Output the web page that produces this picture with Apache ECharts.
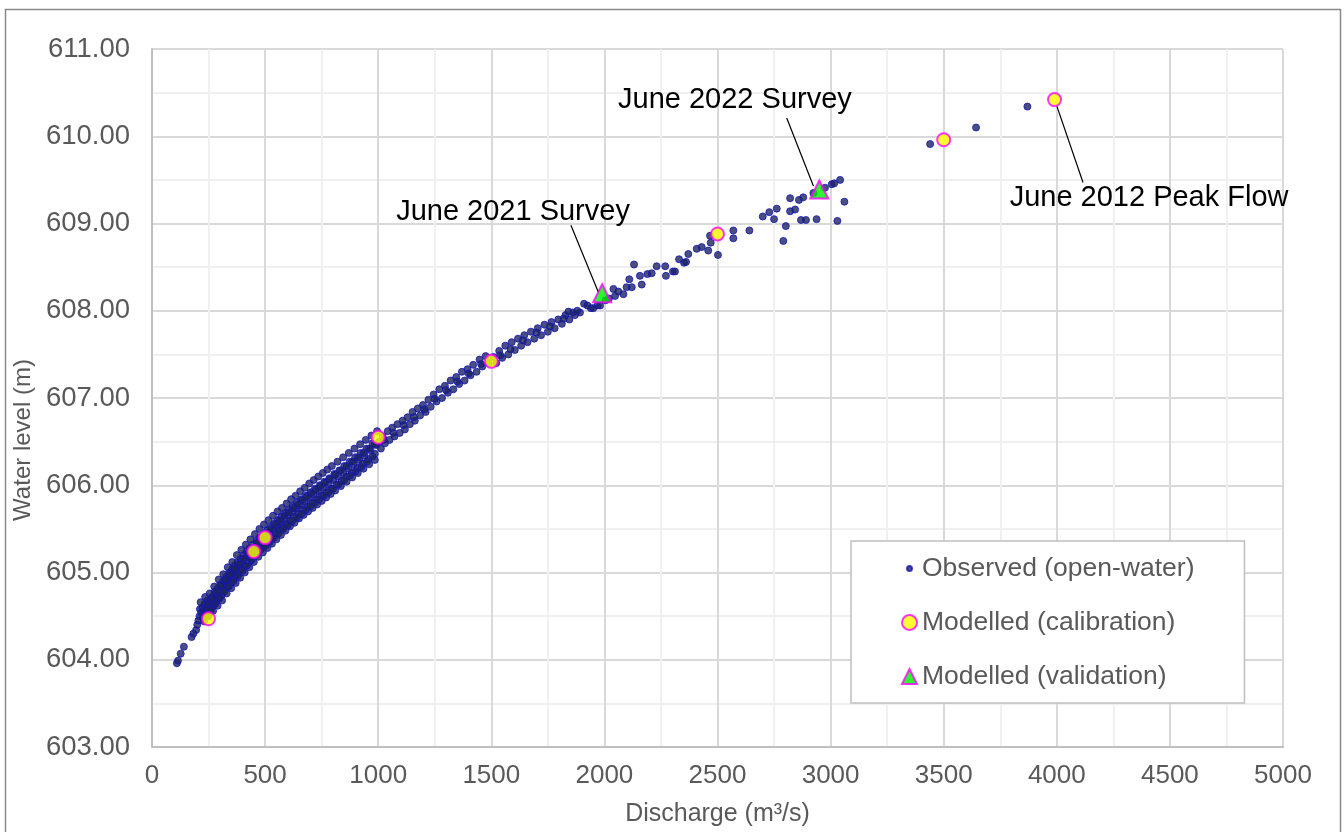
<!DOCTYPE html>
<html>
<head>
<meta charset="utf-8">
<script src="https://cdn.jsdelivr.net/npm/echarts@6/dist/echarts.min.js"></script>
<style>
  html, body { margin: 0; padding: 0; background: #fff; }
  #chart { width: 1344px; height: 832px; }
</style>
</head>
<body>
<div id="chart"></div>
<script>
// observed open-water stage-discharge pairs [Q m3/s, level m]
const observed = [
  [110,603.96],[115,603.99],[127,604.07],[141,604.15],[175,604.26],[183,604.30],[195,604.34],[200,604.40],
  [205,604.45],[210,604.50],[212,604.58],[218,604.54],[222,604.60],[225,604.48],[230,604.56],[232,604.64],
  [238,604.52],[240,604.60],[245,604.68],[248,604.58],[255,604.54],[258,604.66],[262,604.60],[265,604.72],
  [270,604.62],[275,604.70],[278,604.78],[282,604.66],[288,604.74],[290,604.82],[295,604.70],[300,604.78],
  [302,604.86],[308,604.74],[312,604.84],[315,604.90],[320,604.80],[325,604.88],[328,604.95],[333,604.84],
  [338,604.92],[342,605.00],[346,604.88],[350,604.97],[355,605.04],[358,604.92],[362,605.00],[366,605.08],
  [370,604.96],[375,605.05],[378,605.12],[383,605.00],[388,605.09],[392,605.16],[396,605.04],[400,605.13],
  [405,605.20],[410,605.08],[415,605.17],[418,605.24],[424,605.12],[428,605.21],[432,605.28],[438,605.16],
  [442,605.25],[446,605.32],[452,605.20],[458,605.29],[462,605.36],[468,605.24],[472,605.33],[476,605.40],
  [482,605.28],[488,605.37],[492,605.44],[498,605.32],[505,605.41],[508,605.48],[514,605.36],[520,605.45],
  [524,605.52],[530,605.40],[536,605.49],[540,605.56],[546,605.44],[552,605.53],[556,605.60],[562,605.48],
  [568,605.57],[572,605.64],[578,605.52],[584,605.61],[588,605.68],[595,605.56],[600,605.65],[605,605.72],
  [612,605.60],[618,605.69],[622,605.76],[630,605.64],[636,605.73],[640,605.80],[648,605.68],[654,605.77],
  [660,605.84],[668,605.72],[674,605.81],[680,605.88],[688,605.76],[694,605.85],[700,605.92],[708,605.80],
  [715,605.89],[720,605.96],[728,605.84],[735,605.93],[742,606.00],[750,605.88],[756,605.97],[762,606.04],
  [770,605.92],[778,606.01],[784,606.08],[792,605.96],[800,606.06],[806,606.13],[815,606.01],[822,606.10],
  [828,606.17],[838,606.05],[845,606.14],[850,606.22],[860,606.10],[868,606.19],[874,606.27],[884,606.15],
  [892,606.24],[898,606.32],[908,606.20],[916,606.29],[922,606.37],[932,606.25],[940,606.34],[948,606.42],
  [958,606.30],[966,606.40],[975,606.48],[985,606.36],[992,606.46],[1005,606.50],[1012,606.42],[1020,606.56],
  [1030,606.48],[1042,606.62],[1050,606.52],[1062,606.66],[1072,606.56],[1085,606.70],[1095,606.60],[1108,606.74],
  [1118,606.64],[1130,606.78],[1140,606.70],[1152,606.84],[1162,606.74],[1175,606.88],[1185,606.80],[1198,606.92],
  [1210,606.84],[1222,606.98],[1232,606.90],[1245,607.04],[1258,606.96],[1270,607.10],[1282,607.00],[1295,607.14],
  [1308,607.06],[1320,607.20],[1332,607.10],[1345,607.24],[1358,607.16],[1370,607.30],[1382,607.20],[1395,607.33],
  [1408,607.26],[1420,607.38],[1435,607.30],[1448,607.44],[1460,607.36],[1475,607.48],[1488,607.40],[1510,607.47],
  [1522,607.40],[1535,607.54],[1548,607.46],[1562,607.60],[1575,607.50],[1590,607.64],[1604,607.55],[1618,607.68],
  [1632,607.60],[1646,607.72],[1660,607.64],[1675,607.76],[1690,607.68],[1705,607.80],[1720,607.72],[1735,607.84],
  [1750,607.76],[1766,607.87],[1780,607.80],[1796,607.90],[1812,607.85],[1828,607.95],[1841,607.99],[1845,607.90],
  [1860,607.98],[1870,607.95],[1892,607.98],[1910,608.08],[1925,608.06],[1940,608.03],[1951,608.03],[1970,608.06],
  [1981,608.06],[2005,608.12],[2020,608.14],[2040,608.25],[2047,608.17],[2062,608.22],[2084,608.19],[2098,608.27],
  [2110,608.36],[2121,608.27],[2131,608.53],[2157,608.40],[2165,608.30],[2190,608.42],[2209,608.43],[2231,608.51],
  [2269,608.51],[2272,608.40],[2303,608.45],[2312,608.45],[2330,608.59],[2352,608.55],[2361,608.56],[2371,608.65],
  [2408,608.71],[2430,608.73],[2459,608.69],[2470,608.78],[2467,608.86],[2502,608.64],[2570,608.92],[2570,608.83],
  [2641,608.92],[2700,609.08],[2729,609.13],[2750,609.05],[2762,609.17],[2791,608.80],[2802,608.97],[2821,609.14],
  [2843,609.16],[2821,609.29],[2860,609.27],[2879,609.30],[2869,609.04],[2891,609.04],[2938,609.05],[2924,609.35],
  [2975,609.41],[3005,609.45],[3016,609.46],[3042,609.50],[3061,609.25],[3030,609.03],[3440,609.91],[3643,610.10],
  [3870,610.34],
  // upper edge of the dense band
  [215,604.66],[235,604.72],[255,604.76],[275,604.84],[295,604.92],[315,604.98],[335,605.06],[355,605.12],
  [375,605.20],[395,605.26],[415,605.32],[435,605.38],[455,605.44],[475,605.50],[495,605.55],[515,605.60],
  [535,605.65],[555,605.70],[575,605.74],[595,605.79],[615,605.84],[635,605.88],[655,605.93],[675,605.97],
  [695,606.02],[715,606.06],[735,606.10],[755,606.14],[775,606.18],[795,606.22],[820,606.27],[845,606.32],
  [870,606.37],[895,606.42],[920,606.47],[945,606.52],[970,606.57],[995,606.62],
  // lower edge of the dense band
  [230,604.44],[250,604.50],[270,604.56],[290,604.62],[310,604.68],[330,604.76],[350,604.82],[370,604.88],
  [390,604.94],[410,605.00],[430,605.06],[450,605.12],[470,605.18],[490,605.23],[510,605.28],[530,605.33],
  [550,605.38],[570,605.43],[590,605.48],[610,605.53],[630,605.57],[650,605.62],[670,605.66],[690,605.70],
  [710,605.74],[730,605.78],[750,605.82],[770,605.86],[790,605.90],[810,605.94],[835,605.99],[860,606.04],
  [885,606.09],[910,606.14],[935,606.19],[960,606.24],[985,606.29],
  // fill inside the dense band
  [245,604.64],[265,604.70],[285,604.78],[305,604.85],[325,604.92],[345,604.98],[365,605.04],[385,605.10],
  [405,605.16],[425,605.22],[445,605.28],[465,605.34],[485,605.40],[505,605.45],[525,605.50],[545,605.55],
  [565,605.60],[585,605.65],[605,605.69],[625,605.74],[645,605.78],[665,605.83],[685,605.87],[705,605.91],
  [725,605.95],[745,605.99],[765,606.03],[785,606.07],[810,606.12],[835,606.17],[860,606.22],[885,606.27],
  [910,606.32],[935,606.37],[960,606.42],[985,606.47],
  [240,604.50],[260,604.57],[280,604.64],[300,604.71],[320,604.78],[340,604.84],[360,604.90],[380,604.96],
  [400,605.02],[420,605.08],[440,605.14],[460,605.20],[480,605.26],[500,605.30],[520,605.35],[540,605.40],
  [560,605.45],[580,605.50],[600,605.54],[620,605.59],[640,605.63],[660,605.67],[680,605.72],[700,605.76],
  [720,605.80],[740,605.84],[760,605.88],[780,605.92],[800,605.96],[825,606.01],[850,606.06],[875,606.11],
  [900,606.16],[925,606.21],[950,606.27],[975,606.33],
  // middle of the two-track section
  [1025,606.52],[1068,606.60],[1112,606.69],[1158,606.78],[1204,606.87],[1250,606.99],[1300,607.09],[1350,607.19],
  [1400,607.28],[1455,607.39],[1540,607.49],[1585,607.56],[1640,607.66],[1700,607.75],[1760,607.82],[1820,607.91],
  [1880,608.00]
];

const calibration = [[250,604.47],[450,605.24],[500,605.40],[1000,606.55],[1500,607.42],[2500,608.88],[3500,609.96],[3990,610.42]];
const validation = [[1990,608.20],[2950,609.39]];

// survey callouts: label position, leader line start, leader line end
const noteNames = ['June 2021 Survey', 'June 2022 Survey', 'June 2012 Peak Flow'];
const notePos = [[1596,609.13],[2577,610.42],[4408,609.29]];
const noteFrom = [[1852,608.98],[2806,610.21],[4001,610.34]];
const noteTo = [[1972,608.22],[2924,609.43],[4116,609.47]];

const grey = '#595959';
const chart = echarts.init(document.getElementById('chart'));

const option = {
  animation: false,
  backgroundColor: '#fff',
  textStyle: { fontFamily: 'Liberation Sans, Arial, sans-serif' },
  graphic: [{
    type: 'rect',
    shape: { x: 5.5, y: 9.5, width: 1335, height: 840 },
    style: { fill: 'none', stroke: '#898989', lineWidth: 1.5 },
    silent: true
  }],
  grid: { left: 152, right: 61, top: 49, bottom: 82 },
  legend: {
    orient: 'vertical',
    left: 851,
    top: 541,
    padding: [14, 50, 13, 50],
    itemGap: 27,
    itemWidth: 15,
    itemHeight: 15,
    itemTextGap: 5,
    backgroundColor: '#fff',
    borderColor: '#bfbfbf',
    borderWidth: 1.5,
    textStyle: { fontSize: 26.5, color: grey },
    data: [
      { name: 'Observed (open-water)', icon: 'path://M0,0M15,15M5,7.5a2.5,2.5 0 1,0 5,0a2.5,2.5 0 1,0 -5,0z' },
      { name: 'Modelled (calibration)', icon: 'circle' },
      { name: 'Modelled (validation)', icon: 'triangle' }
    ]
  },
  xAxis: {
    type: 'value',
    min: 0, max: 5000, interval: 500,
    name: 'Discharge (m³/s)',
    nameLocation: 'middle',
    nameGap: 55,
    nameTextStyle: { fontSize: 25, color: grey },
    axisLine: { show: true, lineStyle: { color: '#bfbfbf', width: 2 } },
    axisTick: { show: false },
    axisLabel: { fontSize: 26, color: grey, margin: 16, formatter: v => String(v) },
    splitLine: { lineStyle: { color: '#d9d9d9', width: 2 } },
    minorTick: { show: false, splitNumber: 2 },
    minorSplitLine: { show: true, lineStyle: { color: '#f0f0f0', width: 2 } }
  },
  yAxis: {
    type: 'value',
    min: 603, max: 611, interval: 1,
    name: 'Water level (m)',
    nameLocation: 'middle',
    nameGap: 115,
    nameTextStyle: { fontSize: 24, color: grey, padding: [0, 84, 0, 0] },
    axisLine: { show: true, lineStyle: { color: '#bfbfbf', width: 2 } },
    axisTick: { show: false },
    axisLabel: { fontSize: 27.5, color: grey, margin: 22, formatter: v => v.toFixed(2) },
    splitLine: { lineStyle: { color: '#d9d9d9', width: 2 } },
    minorTick: { show: false, splitNumber: 2 },
    minorSplitLine: { show: true, lineStyle: { color: '#f0f0f0', width: 2 } }
  },
  series: [
    {
      name: 'Observed (open-water)',
      type: 'scatter',
      data: observed,
      symbol: 'circle',
      symbolSize: 7,
      itemStyle: { color: '#1b2460', borderColor: '#1515b8', borderWidth: 1 }
    },
    {
      name: 'Modelled (calibration)',
      type: 'scatter',
      data: calibration,
      symbol: 'circle',
      symbolSize: 13,
      z: 3,
      itemStyle: { color: '#ffff00', borderColor: '#ff00ff', borderWidth: 2 }
    },
    {
      name: 'Modelled (validation)',
      type: 'scatter',
      data: validation,
      symbol: 'triangle',
      symbolSize: 18,
      z: 4,
      itemStyle: { color: '#00ee00', borderColor: '#ff00ff', borderWidth: 2 },
      markLine: {
        silent: true,
        symbol: 'none',
        animation: false,
        lineStyle: { color: '#000', width: 1.2, type: 'solid' },
        label: { show: false },
        data: noteFrom.map((p, i) => [{ coord: p }, { coord: noteTo[i] }])
      },
      markPoint: {
        silent: true,
        symbol: 'circle',
        symbolSize: 0,
        label: {
          show: true,
          position: 'inside',
          fontSize: 29,
          color: '#000',
          formatter: p => p.name
        },
        data: noteNames.map((n, i) => ({ name: n, coord: notePos[i] }))
      }
    }
  ]
};

chart.setOption(option);
</script>
</body>
</html>
